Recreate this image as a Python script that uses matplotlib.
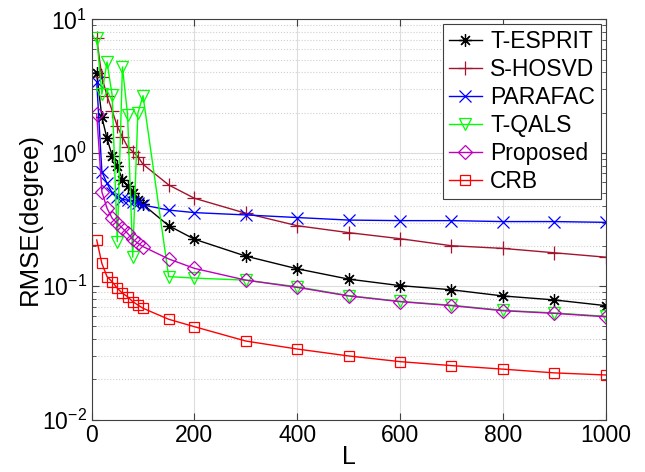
import matplotlib
matplotlib.use("Agg")
import matplotlib.pyplot as plt
import numpy as np
from matplotlib.ticker import LogLocator, NullFormatter, MultipleLocator

plt.rcParams['font.family'] = ['Liberation Sans', 'DejaVu Sans']
plt.rcParams['mathtext.fontset'] = 'custom'
plt.rcParams['mathtext.rm'] = 'Liberation Sans'
plt.rcParams['mathtext.it'] = 'Liberation Sans'

# snapshot counts
L = [10, 20, 30, 40, 50, 60, 70, 80, 90, 100, 150, 200, 300, 400, 500, 600, 700, 800, 900, 1000]

t_esprit = [3.94, 1.85, 1.28, 0.95, 0.79, 0.63, 0.56, 0.50, 0.44, 0.41,
            0.284, 0.225, 0.168, 0.135, 0.113, 0.101, 0.094, 0.0845, 0.0789, 0.0715]
s_hosvd = [7.2, 3.7, 2.67, 2.07, 1.58, 1.31, 1.11, 1.02, 0.935, 0.82,
           0.574, 0.456, 0.352, 0.284, 0.252, 0.227, 0.201, 0.192, 0.178, 0.165]
parafac = [3.41, 0.72, 0.59, 0.50, 0.47, 0.45, 0.44, 0.43, 0.42, 0.406,
           0.372, 0.356, 0.342, 0.327, 0.313, 0.31, 0.31, 0.305, 0.305, 0.301]
t_qals = [7.3, 2.75, 4.8, 2.7, 0.216, 4.4, 1.92, 0.165, 1.98, 2.68,
          0.118, 0.115, 0.111, 0.099, 0.085, 0.077, 0.072, 0.066, 0.063, 0.0595]
proposed = [1.95, 0.51, 0.384, 0.323, 0.296, 0.272, 0.249, 0.225, 0.21, 0.198,
            0.16, 0.136, 0.111, 0.098, 0.0845, 0.0766, 0.0715, 0.0655, 0.0626, 0.059]
crb = [0.222, 0.148, 0.118, 0.108, 0.0965, 0.0885, 0.0834, 0.0766, 0.0723, 0.0683,
       0.0565, 0.0497, 0.0388, 0.0338, 0.030, 0.0272, 0.0254, 0.0239, 0.0224, 0.0216]

asterisk = (8, 2, 0)
series = [
    ('T-ESPRIT', t_esprit, 'k', asterisk, 9),
    ('S-HOSVD', s_hosvd, (0.64, 0.08, 0.18), '+', 10),
    ('PARAFAC', parafac, 'b', 'x', 8),
    ('T-QALS', t_qals, (0.0, 1.0, 0.0), 'v', 9),
    ('Proposed', proposed, 'm', 'D', 7),
    ('CRB', crb, 'r', 's', 7),
]

fig = plt.figure(figsize=(6.45, 4.72), dpi=100)
ax = fig.add_axes([0.142, 0.111, 0.797, 0.848])

for name, vals, col, mk, ms in series:
    ax.semilogy(L, vals, color=col, marker=mk, markersize=ms, linewidth=1.0,
                markerfacecolor='none', markeredgewidth=0.9, label=name)

ax.set_xlim(0, 1000)
ax.set_ylim(1e-2, 1e1)
ax.xaxis.set_major_locator(MultipleLocator(200))
ax.yaxis.set_major_locator(LogLocator(base=10))
ax.yaxis.set_minor_locator(LogLocator(base=10, subs=np.arange(2, 10)))
ax.yaxis.set_minor_formatter(NullFormatter())

ax.grid(True, which='major', color='#dcdcdc', linewidth=0.8)
ax.grid(True, which='minor', axis='y', color='#cfcfcf', linestyle=':', linewidth=0.8)
ax.set_axisbelow(True)

ax.tick_params(which='both', direction='in', top=True, right=True, labelsize=16.5,
               color='#404040')
ax.tick_params(which='major', length=5)
ax.tick_params(which='minor', length=3)
for sp in ax.spines.values():
    sp.set_color('#404040')
    sp.set_linewidth(0.8)

ax.set_xlabel('L', fontsize=18, labelpad=-2)
ax.set_ylabel('RMSE(degree)', fontsize=18.5, labelpad=0)

leg = ax.legend(loc='upper right', fontsize=16.5, fancybox=False, framealpha=1,
                edgecolor='#404040', borderpad=0.25, labelspacing=0.22,
                handlelength=1.45, handletextpad=0.35, borderaxespad=0.22)
leg.get_frame().set_linewidth(0.8)

fig.savefig('out.png', dpi=100)
